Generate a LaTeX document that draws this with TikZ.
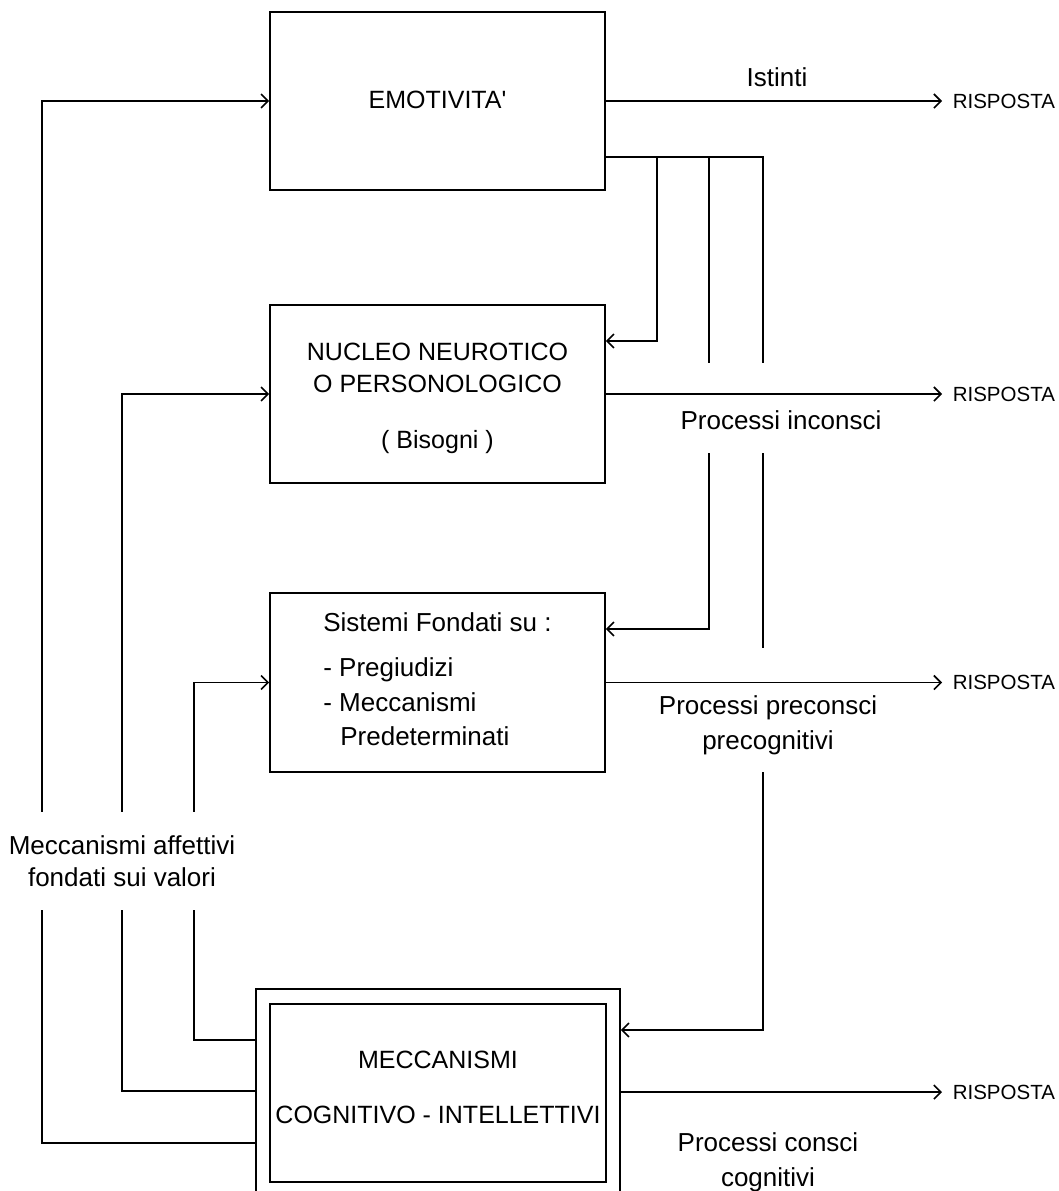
\documentclass[tikz,border=0pt]{standalone}
\usepackage{fontspec}
\newfontfamily\arialf{Liberation Sans}
\usetikzlibrary{arrows.meta}
\begin{document}
\begin{tikzpicture}[x=1pt,y=-1pt,line width=1.6pt,
  box/.style={draw,line width=1.6pt,minimum width=335pt,minimum height=178pt,inner sep=0pt},
  caps/.style={inner sep=0pt,align=center,font=\arialf\fontsize{25}{32}\selectfont},
  txt/.style={inner sep=0pt,align=center,font=\arialf\fontsize{26}{32}\selectfont},
  resp/.style={anchor=west,inner xsep=10pt,inner ysep=0pt,font=\arialf\fontsize{20.5}{24}\selectfont},
  arr/.style={-{Straight Barb[length=7pt,width=14pt]}}]
\clip (0,0) rectangle (1058,1191);
% boxes
\node[box] (emo) at (437.5,101) {};
\node[box] (nuc) at (437.5,394) {};
\node[box,minimum height=179pt] (sis) at (437.5,682.5) {};
\node[box,minimum width=364pt,minimum height=206pt] (outer) at (438,1092) {};
\node[box,minimum width=336pt,minimum height=178pt] (inner) at (438,1093) {};
% box texts
\node[caps] (emot) at (437.5,100) {EMOTIVITA\symbol{39}};
\node[caps] (nuct) at (437.5,398) {NUCLEO NEUROTICO\\O PERSONOLOGICO\\[24pt]( Bisogni )};
\node[txt,align=left,font=\arialf\fontsize{26}{34.5}\selectfont] (sist) at (437.5,679.5)
  {Sistemi Fondati su :\\[10.5pt]- Pregiudizi\\- Meccanismi\\\hspace*{17pt}Predeterminati};
\node[caps] (innt) at (438,1087) {MECCANISMI\\[23pt]COGNITIVO - INTELLETTIVI};
% responses
\node[resp] (r1) at (942,101) {RISPOSTA};
\node[resp] (r2) at (942,394) {RISPOSTA};
\node[resp] (r3) at (942,682.5) {RISPOSTA};
\node[resp] (r4) at (942,1092) {RISPOSTA};
\draw[arr] (emo.east) -- (r1.west);
\draw[arr] (nuc.east) -- (r2.west);
\draw[arr] (sis.east) -- (r3.west);
\draw[arr] (outer.east) -- (r4.west);
% labels
\node[txt] (ist) at (777,77) {Istinti};
\node[txt] (pinc) at (781,420) {Processi inconsci};
\node[txt,font=\arialf\fontsize{26}{35}\selectfont] (ppre) at (768,725) {Processi preconsci\\precognitivi};
\node[txt,font=\arialf\fontsize{26}{35}\selectfont] (pcon) at (768,1162) {Processi consci\\cognitivi};
% right-hand branches
\coordinate (ja) at (657,157);
\coordinate (jb) at (709,157);
\coordinate (jc) at (763,157);
\coordinate (b1) at (709,363);
\coordinate (c1) at (763,363);
\coordinate (b2) at (709,453);
\coordinate (c2) at (763,453);
\coordinate (c3) at (763,648);
\coordinate (c4) at (763,772);
\draw (emo.east |- jc) -- (jc) -- (c1);
\draw[arr] (ja) |- (nuc.east |- 0,341);
\draw (jb) -- (b1);
\draw[arr] (b2) |- (sis.east |- 0,629);
\draw (c2) -- (c3);
\draw[arr] (c4) |- (outer.east |- 0,1030);
% left-hand feedback
\draw[arr] (outer.west |- 0,1143) -- (42,1143) |- (emo.west);
\draw[arr] (outer.west |- 0,1091) -- (122,1091) |- (nuc.west);
\draw[arr] (outer.west |- 0,1040) -- (194,1040) |- (sis.west);
\node[txt,fill=white,minimum height=98pt] (maff) at (122,861) {Meccanismi affettivi\\fondati sui valori};
\end{tikzpicture}
\end{document}
